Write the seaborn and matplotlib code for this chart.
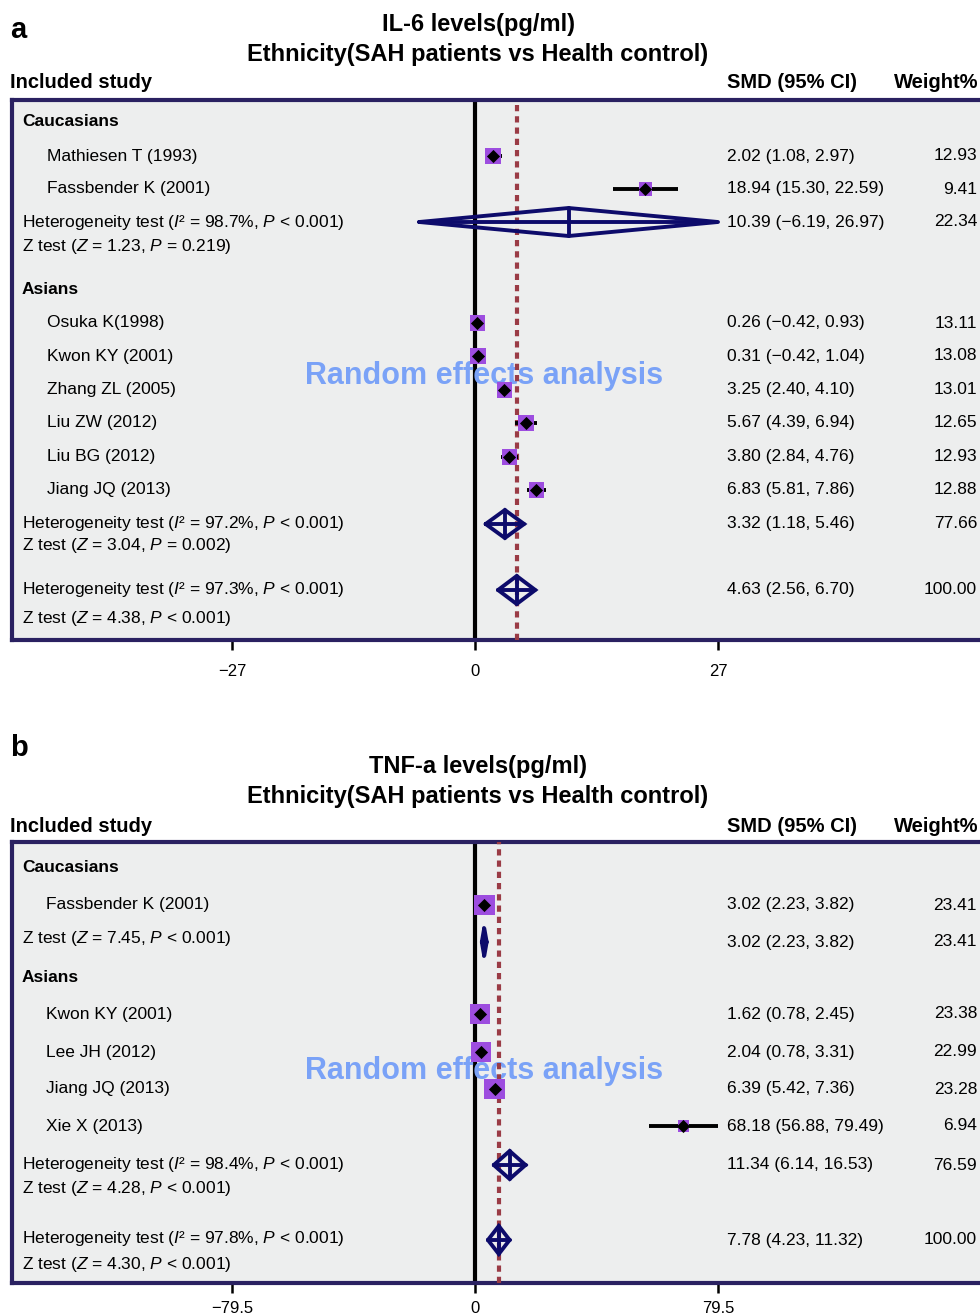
import numpy as np
import pandas as pd
import seaborn as sns
import matplotlib.pyplot as plt
from matplotlib import transforms

sns.set_style("white")
plt.rcParams['font.family'] = ['Liberation Sans', 'DejaVu Sans']
plt.rcParams['mathtext.fontset'] = 'custom'
plt.rcParams['mathtext.rm'] = 'Liberation Sans'
plt.rcParams['mathtext.it'] = 'Liberation Sans:italic'
plt.rcParams['text.color'] = 'black'
plt.rcParams['xtick.color'] = 'black'
plt.rcParams['xtick.labelcolor'] = 'black'

# ---- data: IL-6 ----
il6_study = ["Mathiesen T (1993)", "Fassbender K (2001)", "Osuka K(1998)", "Kwon KY (2001)",
             "Zhang ZL (2005)", "Liu ZW (2012)", "Liu BG (2012)", "Jiang JQ (2013)"]
il6_smd = [2.02, 18.94, 0.26, 0.31, 3.25, 5.67, 3.80, 6.83]
il6_lo = [1.08, 15.30, -0.42, -0.42, 2.40, 4.39, 2.84, 5.81]
il6_hi = [2.97, 22.59, 0.93, 1.04, 4.10, 6.94, 4.76, 7.86]
il6_w = [12.93, 9.41, 13.11, 13.08, 13.01, 12.65, 12.93, 12.88]
il6_sum_est = [10.39, 3.32, 4.63]
il6_sum_lo = [-6.19, 1.18, 2.56]
il6_sum_hi = [26.97, 5.46, 6.70]
il6_sum_w = [22.34, 77.66, 100.00]
il6_het = ["98.7%, $P$ < 0.001", "97.2%, $P$ < 0.001", "97.3%, $P$ < 0.001"]
il6_z = ["1.23, $P$ = 0.219", "3.04, $P$ = 0.002", "4.38, $P$ < 0.001"]

# ---- data: TNF-a ----
tnf_study = ["Fassbender K (2001)", "Kwon KY (2001)", "Lee JH (2012)", "Jiang JQ (2013)", "Xie X (2013)"]
tnf_smd = [3.02, 1.62, 2.04, 6.39, 68.18]
tnf_lo = [2.23, 0.78, 0.78, 5.42, 56.88]
tnf_hi = [3.82, 2.45, 3.31, 7.36, 79.49]
tnf_w = [23.41, 23.38, 22.99, 23.28, 6.94]
tnf_sum_est = [3.02, 11.34, 7.78]
tnf_sum_lo = [2.23, 6.14, 4.23]
tnf_sum_hi = [3.82, 16.53, 11.32]
tnf_sum_w = [23.41, 76.59, 100.00]
tnf_het = [None, "98.4%, $P$ < 0.001", "97.8%, $P$ < 0.001"]
tnf_z = ["7.45, $P$ < 0.001", "4.28, $P$ < 0.001", "4.30, $P$ < 0.001"]

groups = ["Caucasians", "Asians"]

W, H = 980, 1315
fig = plt.figure(figsize=(W / 100, H / 100), dpi=100)

NAVY = '#0d0b6b'
BORDER = '#2a2161'
PURPLE = '#9d4ddf'
DASH = '#9a3b45'
FS = 12.5
HFS = 14.5


def fmt(v):
    return f"{v:.2f}".replace("-", "\u2212")


def ci_text(e, l, h):
    return f"{fmt(e)} ({fmt(l)}, {fmt(h)})"


def panel(letter, title, top, bot, tick, tick_px, study, smd, lo, hi, w,
          s_est, s_lo, s_hi, s_w, het, zt, rows, pad):
    left_px, right_px, zero_px = 12, 995, 475
    ax = fig.add_axes([left_px / W, 1 - bot / H, (right_px - left_px) / W, (bot - top) / H])
    scale = (tick_px - zero_px) / tick
    ax.set_xlim((left_px - zero_px) / scale, (right_px - zero_px) / scale)
    ax.set_ylim(bot, top)
    ax.set_facecolor('#edeeee')
    for sp in ax.spines.values():
        sp.set_color(BORDER)
        sp.set_linewidth(3)
    ax.set_yticks([])
    ax.set_xticks([-tick, 0, tick])
    lab = f"{tick:g}"
    ax.set_xticklabels(["\u2212" + lab, "0", lab], fontsize=12)
    ax.tick_params(axis='x', direction='out', length=7, width=1.8, color='black',
                   pad=pad, bottom=True)

    tr = transforms.blended_transform_factory(fig.transFigure, ax.transData)

    # zero line and pooled estimate line
    ax.axvline(0, color='black', lw=3, zorder=1)
    ax.axvline(s_est[-1], color=DASH, lw=3, ls=(0, (1.5, 1.2)), zorder=3)

    # watermark
    ax.text(484 / W, rows['wm'], "Random effects analysis", transform=tr, ha='center',
            va='center', fontsize=22, fontweight='bold', color='#7aa2f7', zorder=2)

    # studies
    ys = rows['study']
    ax.hlines(ys, lo, hi, color='black', lw=2.8, zorder=4)
    df = pd.DataFrame({'smd': smd, 'y': ys, 'w': w})
    sns.scatterplot(data=df, x='smd', y='y', size='w', sizes=(0, 950), size_norm=(0, 100),
                    marker='s', color=PURPLE, linewidth=0, legend=False, ax=ax, zorder=5)
    ax.scatter(smd, ys, marker='D', s=45, color='black', zorder=6, linewidth=0)
    ax.set_xlabel('')
    ax.set_ylabel('')

    # summary diamonds
    hh = 14
    for e, l, h, y in zip(s_est, s_lo, s_hi, rows['sum']):
        ax.plot([l, e, h, e, l], [y, y - hh, y, y + hh, y], color=NAVY, lw=2.8,
                solid_joinstyle='miter', zorder=7)
        ax.plot([l, h], [y, y], color=NAVY, lw=2.8, zorder=7)
        ax.plot([e, e], [y - hh, y + hh], color=NAVY, lw=2.8, zorder=7)

    # left column text
    for g, y in zip(groups, rows['group']):
        ax.text(22 / W, y, g, transform=tr, va='center', fontsize=FS, fontweight='bold')
    for s, y in zip(study, ys):
        ax.text(rows['indent'] / W, y, s, transform=tr, va='center', fontsize=FS)
    for t, y in zip(het, rows['het']):
        if t is not None:
            ax.text(22 / W, y, "Heterogeneity test ($I$\u00b2 = " + t + ")", transform=tr,
                    va='center', fontsize=FS)
    for t, y in zip(zt, rows['z']):
        ax.text(22 / W, y, "Z test ($Z$ = " + t + ")", transform=tr, va='center', fontsize=FS)

    # right columns
    for e, l, h, wt, y in zip(smd, lo, hi, w, ys):
        ax.text(727 / W, y, ci_text(e, l, h), transform=tr, va='center', fontsize=FS)
        ax.text(977 / W, y, f"{wt:.2f}", transform=tr, va='center', ha='right', fontsize=FS)
    for e, l, h, wt, y in zip(s_est, s_lo, s_hi, s_w, rows['sum']):
        ax.text(727 / W, y, ci_text(e, l, h), transform=tr, va='center', fontsize=FS)
        ax.text(977 / W, y, f"{wt:.2f}", transform=tr, va='center', ha='right', fontsize=FS)

    # headings
    t1, t2, hd, ly = rows['titles']
    fig.text(478 / W, 1 - t1 / H, title[0], ha='center', va='center', fontsize=17, fontweight='bold')
    fig.text(478 / W, 1 - t2 / H, title[1], ha='center', va='center', fontsize=17, fontweight='bold')
    fig.text(10 / W, 1 - hd / H, "Included study", va='center', fontsize=HFS, fontweight='bold')
    fig.text(727 / W, 1 - hd / H, "SMD (95% CI)", va='center', fontsize=HFS, fontweight='bold')
    fig.text(978 / W, 1 - hd / H, "Weight%", va='center', ha='right', fontsize=HFS, fontweight='bold')
    fig.text(10 / W, 1 - ly / H, letter, va='center', fontsize=21, fontweight='bold')
    return ax


panel("a", ["IL-6 levels(pg/ml)", "Ethnicity(SAH patients vs Health control)"], 100, 640, 27, 718,
      il6_study, il6_smd, il6_lo, il6_hi, il6_w,
      il6_sum_est, il6_sum_lo, il6_sum_hi, il6_sum_w, il6_het, il6_z,
      {'study': [156, 189, 323, 356, 390, 423, 457, 490], 'sum': [222, 524, 590],
       'het': [222, 524, 590], 'z': [247, 546, 619], 'group': [122, 289], 'indent': 47,
       'wm': 376, 'titles': [24, 55, 83, 30]}, pad=10)

panel("b", ["TNF-a levels(pg/ml)", "Ethnicity(SAH patients vs Health control)"], 842, 1283, 79.5, 718,
      tnf_study, tnf_smd, tnf_lo, tnf_hi, tnf_w,
      tnf_sum_est, tnf_sum_lo, tnf_sum_hi, tnf_sum_w, tnf_het, tnf_z,
      {'study': [905, 1014, 1052, 1089, 1126], 'sum': [942, 1165, 1240],
       'het': [None, 1164, 1239], 'z': [938, 1189, 1264], 'group': [867, 977], 'indent': 46,
       'wm': 1071, 'titles': [766, 796, 827, 748]}, pad=6)

fig.savefig("out.png", dpi=100)
